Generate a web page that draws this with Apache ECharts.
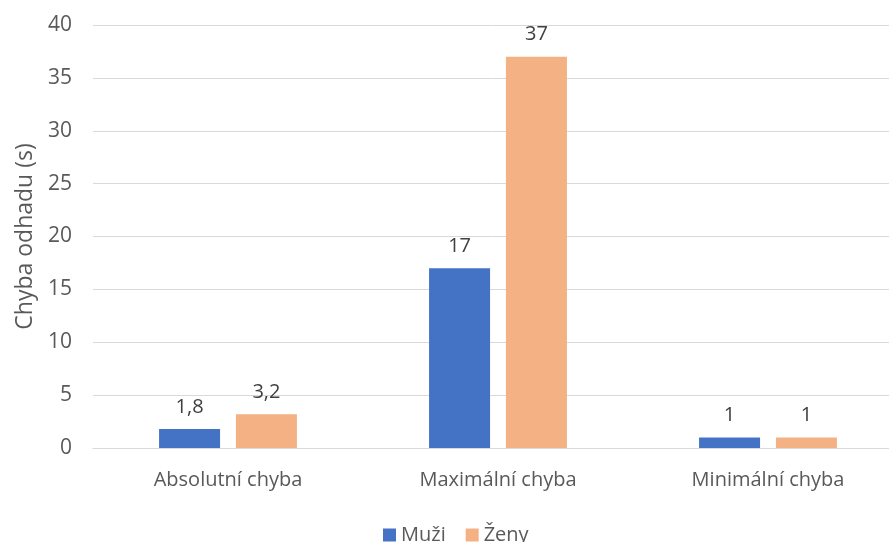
<!DOCTYPE html>
<html>
<head>
<meta charset="utf-8">
<script src="https://cdn.jsdelivr.net/npm/echarts@6/dist/echarts.min.js"></script>
<style>
  html, body { margin: 0; padding: 0; background: #fff; }
  #chart { width: 889px; height: 542px; }
</style>
</head>
<body>
<div id="chart"></div>
<script>
  var categories = ['Absolutní chyba', 'Maximální chyba', 'Minimální chyba'];
  var muzi = [1.8, 17, 1];
  var zeny = [3.2, 37, 1];
  var seriesNames = ['Muži', 'Ženy'];

  var font = '"Open Sans", "Noto Sans", sans-serif';
  var fmt = function (p) { return String(p.value).replace('.', ','); };

  var chart = echarts.init(document.getElementById('chart'));
  chart.setOption({
    animation: false,
    textStyle: { fontFamily: font },
    legend: {
      data: seriesNames,
      bottom: -8,
      left: 378,
      itemWidth: 13,
      itemHeight: 13,
      itemGap: 20,
      icon: 'rect',
      textStyle: { fontSize: 20, color: '#595959', fontFamily: font }
    },
    // plot area runs past the right edge in the original (cropped)
    grid: { left: 93, width: 810, top: 25, height: 423, outerBoundsMode: 'none', containLabel: false },
    xAxis: {
      type: 'category',
      data: categories,
      axisLine: { lineStyle: { color: '#d9d9d9', width: 1 } },
      axisTick: { show: false },
      axisLabel: { fontSize: 20, color: '#595959', margin: 22, fontFamily: font }
    },
    yAxis: {
      type: 'value',
      min: 0,
      max: 40,
      interval: 5,
      name: 'Chyba odhadu (s)',
      nameLocation: 'middle',
      nameGap: 56,
      nameTextStyle: { fontSize: 23, color: '#595959', fontFamily: font },
      axisLine: { show: false },
      axisTick: { show: false },
      splitLine: { lineStyle: { color: '#d9d9d9', width: 1 } },
      axisLabel: { fontSize: 21, color: '#595959', margin: 21, fontFamily: font }
    },
    series: [
      {
        name: seriesNames[0],
        type: 'bar',
        data: muzi,
        barWidth: 61,
        barGap: '26%',
        itemStyle: { color: '#4472C4' },
        label: { show: true, position: 'top', distance: 12, fontSize: 20, color: '#404040', formatter: fmt }
      },
      {
        name: seriesNames[1],
        type: 'bar',
        data: zeny,
        barWidth: 61,
        barGap: '26%',
        itemStyle: { color: '#F4B183' },
        label: { show: true, position: 'top', distance: 12, fontSize: 20, color: '#404040', formatter: fmt }
      }
    ]
  });
</script>
</body>
</html>
